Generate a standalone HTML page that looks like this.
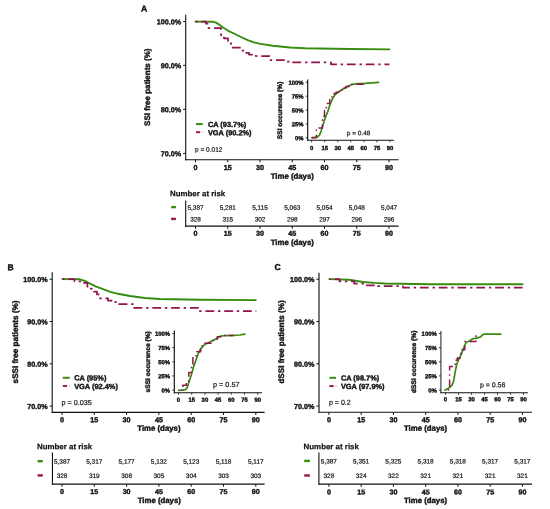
<!DOCTYPE html>
<html><head><meta charset="utf-8"><style>
html,body{margin:0;padding:0;background:#fff;}
svg{display:block;font-family:"Liberation Sans", sans-serif;filter:blur(0.3px);}
text{text-rendering:geometricPrecision;}
text.b{stroke:#111;stroke-width:0.38px;}
text.r{stroke:#1a1a1a;stroke-width:0.22px;}
</style></head><body>
<svg width="550" height="509" viewBox="0 0 550 509">
<rect width="550" height="509" fill="#fff"/>
<line x1="185.70" y1="14.70" x2="185.70" y2="160.20" stroke="#111" stroke-width="1.1"/>
<line x1="185.20" y1="159.70" x2="398.60" y2="159.70" stroke="#111" stroke-width="1.1"/>
<line x1="183.10" y1="21.50" x2="185.70" y2="21.50" stroke="#111" stroke-width="1.0"/>
<text x="181.10" y="24.41" font-size="7.2" font-weight="bold" fill="#111" text-anchor="end" transform="rotate(0.1 181.10 24.41)"  class="b">100.0%</text>
<line x1="183.10" y1="65.30" x2="185.70" y2="65.30" stroke="#111" stroke-width="1.0"/>
<text x="181.10" y="68.21" font-size="7.2" font-weight="bold" fill="#111" text-anchor="end" transform="rotate(0.1 181.10 68.21)"  class="b">90.0%</text>
<line x1="183.10" y1="109.30" x2="185.70" y2="109.30" stroke="#111" stroke-width="1.0"/>
<text x="181.10" y="112.21" font-size="7.2" font-weight="bold" fill="#111" text-anchor="end" transform="rotate(0.1 181.10 112.21)"  class="b">80.0%</text>
<line x1="183.10" y1="153.40" x2="185.70" y2="153.40" stroke="#111" stroke-width="1.0"/>
<text x="181.10" y="156.31" font-size="7.2" font-weight="bold" fill="#111" text-anchor="end" transform="rotate(0.1 181.10 156.31)"  class="b">70.0%</text>
<line x1="195.50" y1="159.70" x2="195.50" y2="162.30" stroke="#111" stroke-width="1.0"/>
<text x="195.50" y="170.11" font-size="7.2" font-weight="bold" fill="#111" text-anchor="middle" transform="rotate(0.1 195.50 170.11)"  class="b">0</text>
<line x1="227.75" y1="159.70" x2="227.75" y2="162.30" stroke="#111" stroke-width="1.0"/>
<text x="227.75" y="170.11" font-size="7.2" font-weight="bold" fill="#111" text-anchor="middle" transform="rotate(0.1 227.75 170.11)"  class="b">15</text>
<line x1="260.00" y1="159.70" x2="260.00" y2="162.30" stroke="#111" stroke-width="1.0"/>
<text x="260.00" y="170.11" font-size="7.2" font-weight="bold" fill="#111" text-anchor="middle" transform="rotate(0.1 260.00 170.11)"  class="b">30</text>
<line x1="292.25" y1="159.70" x2="292.25" y2="162.30" stroke="#111" stroke-width="1.0"/>
<text x="292.25" y="170.11" font-size="7.2" font-weight="bold" fill="#111" text-anchor="middle" transform="rotate(0.1 292.25 170.11)"  class="b">45</text>
<line x1="324.50" y1="159.70" x2="324.50" y2="162.30" stroke="#111" stroke-width="1.0"/>
<text x="324.50" y="170.11" font-size="7.2" font-weight="bold" fill="#111" text-anchor="middle" transform="rotate(0.1 324.50 170.11)"  class="b">60</text>
<line x1="356.75" y1="159.70" x2="356.75" y2="162.30" stroke="#111" stroke-width="1.0"/>
<text x="356.75" y="170.11" font-size="7.2" font-weight="bold" fill="#111" text-anchor="middle" transform="rotate(0.1 356.75 170.11)"  class="b">75</text>
<line x1="389.00" y1="159.70" x2="389.00" y2="162.30" stroke="#111" stroke-width="1.0"/>
<text x="389.00" y="170.11" font-size="7.2" font-weight="bold" fill="#111" text-anchor="middle" transform="rotate(0.1 389.00 170.11)"  class="b">90</text>
<text x="292.30" y="178.75" font-size="7.8" font-weight="bold" fill="#111" text-anchor="middle" transform="rotate(0.1 292.30 178.75)"  class="b">Time (days)</text>
<text x="147.20" y="87.20" font-size="8.0" font-weight="bold" fill="#111" text-anchor="middle" transform="rotate(-90 147.20 87.20)" dy="2.86"  class="b">SSI free patients (%)</text>
<text x="140.90" y="11.57" font-size="8.6" font-weight="bold" fill="#111" text-anchor="start" transform="rotate(0.1 140.90 11.57)"  class="b">A</text>
<line x1="195.90" y1="124.10" x2="202.80" y2="124.10" stroke="#368c0e" stroke-width="2.0"/>
<line x1="195.90" y1="132.20" x2="200.20" y2="132.20" stroke="#92154f" stroke-width="1.9"/>
<line x1="202.10" y1="132.20" x2="203.20" y2="132.20" stroke="#92154f" stroke-width="1.6" opacity="0.3"/>
<text x="207.90" y="127.09" font-size="7.4" font-weight="bold" fill="#111" text-anchor="start" transform="rotate(0.1 207.90 127.09)"  class="b">CA (93.7%)</text>
<text x="207.90" y="135.19" font-size="7.4" font-weight="bold" fill="#111" text-anchor="start" transform="rotate(0.1 207.90 135.19)"  class="b">VGA (90.2%)</text>
<text x="195.10" y="151.63" font-size="6.5" font-weight="normal" fill="#1a1a1a" text-anchor="start" transform="rotate(0.1 195.10 151.63)"  class="r">p = 0.012</text>
<polyline points="195.50,21.60 213.40,21.80 216.00,22.60 218.40,24.10 222.70,27.20 228.20,30.80 235.00,34.00 240.00,36.50 247.70,40.10 254.00,42.30 260.50,43.90 273.00,45.80 290.00,47.50 305.00,48.20 350.00,49.00 389.40,49.40" fill="none" stroke="#368c0e" stroke-width="1.9" stroke-linejoin="round" stroke-linecap="round"/>
<polyline points="195.50,21.60 206.00,21.60 206.00,23.70 207.50,23.70 207.50,28.00 221.00,28.00 221.00,35.00 224.00,35.00 224.00,38.30 228.00,38.30 228.00,42.00 231.00,42.00 231.00,47.70 241.00,47.70 241.00,50.50 246.00,50.50 246.00,52.80 249.00,52.80 249.00,54.50 255.00,54.50 255.00,56.00 269.50,56.00 269.50,60.00 287.00,60.00 287.00,61.50 293.00,61.50 293.00,62.40 331.00,62.40 331.00,64.30 389.40,64.30" fill="none" stroke="#92154f" stroke-width="1.75" stroke-linejoin="round" stroke-linecap="butt" stroke-dasharray="8.8 3.8 2.4 3.8" stroke-dashoffset="12.70"/>
<line x1="307.70" y1="79.40" x2="307.70" y2="140.80" stroke="#111" stroke-width="1.15"/>
<line x1="307.20" y1="140.30" x2="394.00" y2="140.30" stroke="#111" stroke-width="1.1"/>
<line x1="305.70" y1="82.30" x2="307.70" y2="82.30" stroke="#111" stroke-width="0.8"/>
<text x="303.50" y="84.68" font-size="5.9" font-weight="bold" fill="#111" text-anchor="end" transform="rotate(0.1 303.50 84.68)"  class="b">100%</text>
<line x1="305.70" y1="96.20" x2="307.70" y2="96.20" stroke="#111" stroke-width="0.8"/>
<text x="303.50" y="98.58" font-size="5.9" font-weight="bold" fill="#111" text-anchor="end" transform="rotate(0.1 303.50 98.58)"  class="b">75%</text>
<line x1="305.70" y1="110.10" x2="307.70" y2="110.10" stroke="#111" stroke-width="0.8"/>
<text x="303.50" y="112.48" font-size="5.9" font-weight="bold" fill="#111" text-anchor="end" transform="rotate(0.1 303.50 112.48)"  class="b">50%</text>
<line x1="305.70" y1="124.00" x2="307.70" y2="124.00" stroke="#111" stroke-width="0.8"/>
<text x="303.50" y="126.38" font-size="5.9" font-weight="bold" fill="#111" text-anchor="end" transform="rotate(0.1 303.50 126.38)"  class="b">25%</text>
<line x1="305.70" y1="137.90" x2="307.70" y2="137.90" stroke="#111" stroke-width="0.8"/>
<text x="303.50" y="140.28" font-size="5.9" font-weight="bold" fill="#111" text-anchor="end" transform="rotate(0.1 303.50 140.28)"  class="b">0%</text>
<line x1="311.60" y1="140.30" x2="311.60" y2="142.30" stroke="#111" stroke-width="0.8"/>
<text x="311.60" y="149.98" font-size="5.9" font-weight="bold" fill="#111" text-anchor="middle" transform="rotate(0.1 311.60 149.98)"  class="b">0</text>
<line x1="324.67" y1="140.30" x2="324.67" y2="142.30" stroke="#111" stroke-width="0.8"/>
<text x="324.67" y="149.98" font-size="5.9" font-weight="bold" fill="#111" text-anchor="middle" transform="rotate(0.1 324.67 149.98)"  class="b">15</text>
<line x1="337.74" y1="140.30" x2="337.74" y2="142.30" stroke="#111" stroke-width="0.8"/>
<text x="337.74" y="149.98" font-size="5.9" font-weight="bold" fill="#111" text-anchor="middle" transform="rotate(0.1 337.74 149.98)"  class="b">30</text>
<line x1="350.81" y1="140.30" x2="350.81" y2="142.30" stroke="#111" stroke-width="0.8"/>
<text x="350.81" y="149.98" font-size="5.9" font-weight="bold" fill="#111" text-anchor="middle" transform="rotate(0.1 350.81 149.98)"  class="b">45</text>
<line x1="363.88" y1="140.30" x2="363.88" y2="142.30" stroke="#111" stroke-width="0.8"/>
<text x="363.88" y="149.98" font-size="5.9" font-weight="bold" fill="#111" text-anchor="middle" transform="rotate(0.1 363.88 149.98)"  class="b">60</text>
<line x1="376.95" y1="140.30" x2="376.95" y2="142.30" stroke="#111" stroke-width="0.8"/>
<text x="376.95" y="149.98" font-size="5.9" font-weight="bold" fill="#111" text-anchor="middle" transform="rotate(0.1 376.95 149.98)"  class="b">75</text>
<line x1="390.02" y1="140.30" x2="390.02" y2="142.30" stroke="#111" stroke-width="0.8"/>
<text x="390.02" y="149.98" font-size="5.9" font-weight="bold" fill="#111" text-anchor="middle" transform="rotate(0.1 390.02 149.98)"  class="b">90</text>
<text x="280.00" y="110.40" font-size="6.6" font-weight="bold" fill="#111" text-anchor="middle" transform="rotate(-90 280.00 110.40)" dy="2.36"  class="b">SSI occurence (%)</text>
<text x="346.80" y="135.23" font-size="6.5" font-weight="normal" fill="#1a1a1a" text-anchor="start" transform="rotate(0.1 346.80 135.23)"  class="r">p = 0.48</text>
<polyline points="311.90,137.70 317.10,137.20 319.40,135.40 321.20,130.70 323.00,124.80 325.30,117.70 327.70,111.80 330.00,104.80 332.40,98.90 335.40,94.20 339.50,91.20 344.20,88.30 350.00,85.30 354.00,84.20 358.00,83.70 365.00,83.40 378.50,82.30" fill="none" stroke="#368c0e" stroke-width="1.7" stroke-linejoin="round" stroke-linecap="round"/>
<polyline points="311.90,137.70 316.40,137.70 316.40,128.00 322.50,128.00 322.50,116.50 324.50,116.50 324.50,110.50 326.30,110.50 326.30,103.60 329.80,103.60 329.80,99.60 332.00,99.60 332.00,96.00 334.00,96.00 334.00,93.60 336.00,93.60 336.00,92.30 339.50,92.30 339.50,90.30 342.50,90.30 342.50,88.00 346.00,88.00 346.00,86.60 350.50,86.60 350.50,84.30 367.30,84.30" fill="none" stroke="#92154f" stroke-width="1.5" stroke-linejoin="round" stroke-linecap="butt" stroke-dasharray="7.5 3.6 1.6 3.6"/>
<text x="170.00" y="196.19" font-size="7.9" font-weight="bold" fill="#111" text-anchor="start" transform="rotate(0.1 170.00 196.19)" style="stroke-width:0.2px" class="b">Number at risk</text>
<line x1="185.70" y1="200.50" x2="185.70" y2="226.80" stroke="#111" stroke-width="1.1"/>
<line x1="185.20" y1="226.20" x2="398.60" y2="226.20" stroke="#111" stroke-width="1.2"/>
<line x1="171.20" y1="207.10" x2="175.90" y2="207.10" stroke="#368c0e" stroke-width="2.4"/>
<line x1="171.20" y1="218.90" x2="175.90" y2="218.90" stroke="#92154f" stroke-width="2.4"/>
<line x1="195.50" y1="226.20" x2="195.50" y2="228.80" stroke="#111" stroke-width="1.0"/>
<text x="195.50" y="235.87" font-size="7.1" font-weight="bold" fill="#111" text-anchor="middle" transform="rotate(0.1 195.50 235.87)"  class="b">0</text>
<text x="195.50" y="209.71" font-size="6.45" font-weight="normal" fill="#1a1a1a" text-anchor="middle" transform="rotate(0.1 195.50 209.71)"  class="r">5,387</text>
<text x="195.50" y="221.51" font-size="6.45" font-weight="normal" fill="#1a1a1a" text-anchor="middle" transform="rotate(0.1 195.50 221.51)"  class="r">328</text>
<line x1="227.75" y1="226.20" x2="227.75" y2="228.80" stroke="#111" stroke-width="1.0"/>
<text x="227.75" y="235.87" font-size="7.1" font-weight="bold" fill="#111" text-anchor="middle" transform="rotate(0.1 227.75 235.87)"  class="b">15</text>
<text x="227.75" y="209.71" font-size="6.45" font-weight="normal" fill="#1a1a1a" text-anchor="middle" transform="rotate(0.1 227.75 209.71)"  class="r">5,281</text>
<text x="227.75" y="221.51" font-size="6.45" font-weight="normal" fill="#1a1a1a" text-anchor="middle" transform="rotate(0.1 227.75 221.51)"  class="r">315</text>
<line x1="260.00" y1="226.20" x2="260.00" y2="228.80" stroke="#111" stroke-width="1.0"/>
<text x="260.00" y="235.87" font-size="7.1" font-weight="bold" fill="#111" text-anchor="middle" transform="rotate(0.1 260.00 235.87)"  class="b">30</text>
<text x="260.00" y="209.71" font-size="6.45" font-weight="normal" fill="#1a1a1a" text-anchor="middle" transform="rotate(0.1 260.00 209.71)"  class="r">5,115</text>
<text x="260.00" y="221.51" font-size="6.45" font-weight="normal" fill="#1a1a1a" text-anchor="middle" transform="rotate(0.1 260.00 221.51)"  class="r">302</text>
<line x1="292.25" y1="226.20" x2="292.25" y2="228.80" stroke="#111" stroke-width="1.0"/>
<text x="292.25" y="235.87" font-size="7.1" font-weight="bold" fill="#111" text-anchor="middle" transform="rotate(0.1 292.25 235.87)"  class="b">45</text>
<text x="292.25" y="209.71" font-size="6.45" font-weight="normal" fill="#1a1a1a" text-anchor="middle" transform="rotate(0.1 292.25 209.71)"  class="r">5,063</text>
<text x="292.25" y="221.51" font-size="6.45" font-weight="normal" fill="#1a1a1a" text-anchor="middle" transform="rotate(0.1 292.25 221.51)"  class="r">298</text>
<line x1="324.50" y1="226.20" x2="324.50" y2="228.80" stroke="#111" stroke-width="1.0"/>
<text x="324.50" y="235.87" font-size="7.1" font-weight="bold" fill="#111" text-anchor="middle" transform="rotate(0.1 324.50 235.87)"  class="b">60</text>
<text x="324.50" y="209.71" font-size="6.45" font-weight="normal" fill="#1a1a1a" text-anchor="middle" transform="rotate(0.1 324.50 209.71)"  class="r">5,054</text>
<text x="324.50" y="221.51" font-size="6.45" font-weight="normal" fill="#1a1a1a" text-anchor="middle" transform="rotate(0.1 324.50 221.51)"  class="r">297</text>
<line x1="356.75" y1="226.20" x2="356.75" y2="228.80" stroke="#111" stroke-width="1.0"/>
<text x="356.75" y="235.87" font-size="7.1" font-weight="bold" fill="#111" text-anchor="middle" transform="rotate(0.1 356.75 235.87)"  class="b">75</text>
<text x="356.75" y="209.71" font-size="6.45" font-weight="normal" fill="#1a1a1a" text-anchor="middle" transform="rotate(0.1 356.75 209.71)"  class="r">5,048</text>
<text x="356.75" y="221.51" font-size="6.45" font-weight="normal" fill="#1a1a1a" text-anchor="middle" transform="rotate(0.1 356.75 221.51)"  class="r">296</text>
<line x1="389.00" y1="226.20" x2="389.00" y2="228.80" stroke="#111" stroke-width="1.0"/>
<text x="389.00" y="235.87" font-size="7.1" font-weight="bold" fill="#111" text-anchor="middle" transform="rotate(0.1 389.00 235.87)"  class="b">90</text>
<text x="389.00" y="209.71" font-size="6.45" font-weight="normal" fill="#1a1a1a" text-anchor="middle" transform="rotate(0.1 389.00 209.71)"  class="r">5,047</text>
<text x="389.00" y="221.51" font-size="6.45" font-weight="normal" fill="#1a1a1a" text-anchor="middle" transform="rotate(0.1 389.00 221.51)"  class="r">296</text>
<text x="292.30" y="245.05" font-size="7.8" font-weight="bold" fill="#111" text-anchor="middle" transform="rotate(0.1 292.30 245.05)"  class="b">Time (days)</text>
<line x1="52.20" y1="272.20" x2="52.20" y2="412.90" stroke="#111" stroke-width="1.1"/>
<line x1="51.70" y1="412.40" x2="264.60" y2="412.40" stroke="#111" stroke-width="1.1"/>
<line x1="49.60" y1="279.20" x2="52.20" y2="279.20" stroke="#111" stroke-width="1.0"/>
<text x="47.60" y="282.11" font-size="7.2" font-weight="bold" fill="#111" text-anchor="end" transform="rotate(0.1 47.60 282.11)"  class="b">100.0%</text>
<line x1="49.60" y1="321.50" x2="52.20" y2="321.50" stroke="#111" stroke-width="1.0"/>
<text x="47.60" y="324.41" font-size="7.2" font-weight="bold" fill="#111" text-anchor="end" transform="rotate(0.1 47.60 324.41)"  class="b">90.0%</text>
<line x1="49.60" y1="363.80" x2="52.20" y2="363.80" stroke="#111" stroke-width="1.0"/>
<text x="47.60" y="366.71" font-size="7.2" font-weight="bold" fill="#111" text-anchor="end" transform="rotate(0.1 47.60 366.71)"  class="b">80.0%</text>
<line x1="49.60" y1="406.10" x2="52.20" y2="406.10" stroke="#111" stroke-width="1.0"/>
<text x="47.60" y="409.01" font-size="7.2" font-weight="bold" fill="#111" text-anchor="end" transform="rotate(0.1 47.60 409.01)"  class="b">70.0%</text>
<line x1="62.00" y1="412.40" x2="62.00" y2="415.00" stroke="#111" stroke-width="1.0"/>
<text x="62.00" y="422.31" font-size="7.2" font-weight="bold" fill="#111" text-anchor="middle" transform="rotate(0.1 62.00 422.31)"  class="b">0</text>
<line x1="94.30" y1="412.40" x2="94.30" y2="415.00" stroke="#111" stroke-width="1.0"/>
<text x="94.30" y="422.31" font-size="7.2" font-weight="bold" fill="#111" text-anchor="middle" transform="rotate(0.1 94.30 422.31)"  class="b">15</text>
<line x1="126.60" y1="412.40" x2="126.60" y2="415.00" stroke="#111" stroke-width="1.0"/>
<text x="126.60" y="422.31" font-size="7.2" font-weight="bold" fill="#111" text-anchor="middle" transform="rotate(0.1 126.60 422.31)"  class="b">30</text>
<line x1="158.90" y1="412.40" x2="158.90" y2="415.00" stroke="#111" stroke-width="1.0"/>
<text x="158.90" y="422.31" font-size="7.2" font-weight="bold" fill="#111" text-anchor="middle" transform="rotate(0.1 158.90 422.31)"  class="b">45</text>
<line x1="191.20" y1="412.40" x2="191.20" y2="415.00" stroke="#111" stroke-width="1.0"/>
<text x="191.20" y="422.31" font-size="7.2" font-weight="bold" fill="#111" text-anchor="middle" transform="rotate(0.1 191.20 422.31)"  class="b">60</text>
<line x1="223.50" y1="412.40" x2="223.50" y2="415.00" stroke="#111" stroke-width="1.0"/>
<text x="223.50" y="422.31" font-size="7.2" font-weight="bold" fill="#111" text-anchor="middle" transform="rotate(0.1 223.50 422.31)"  class="b">75</text>
<line x1="255.80" y1="412.40" x2="255.80" y2="415.00" stroke="#111" stroke-width="1.0"/>
<text x="255.80" y="422.31" font-size="7.2" font-weight="bold" fill="#111" text-anchor="middle" transform="rotate(0.1 255.80 422.31)"  class="b">90</text>
<text x="158.90" y="430.85" font-size="7.8" font-weight="bold" fill="#111" text-anchor="middle" transform="rotate(0.1 158.90 430.85)"  class="b">Time (days)</text>
<text x="15.00" y="342.00" font-size="8.1" font-weight="bold" fill="#111" text-anchor="middle" transform="rotate(-90 15.00 342.00)" dy="2.90"  class="b">sSSI free patients (%)</text>
<text x="7.60" y="270.27" font-size="8.6" font-weight="bold" fill="#111" text-anchor="start" transform="rotate(0.1 7.60 270.27)"  class="b">B</text>
<line x1="62.80" y1="377.80" x2="69.70" y2="377.80" stroke="#368c0e" stroke-width="2.0"/>
<line x1="62.80" y1="386.00" x2="67.10" y2="386.00" stroke="#92154f" stroke-width="1.9"/>
<line x1="69.00" y1="386.00" x2="70.10" y2="386.00" stroke="#92154f" stroke-width="1.6" opacity="0.3"/>
<text x="74.20" y="380.39" font-size="7.4" font-weight="bold" fill="#111" text-anchor="start" transform="rotate(0.1 74.20 380.39)"  class="b">CA (95%)</text>
<text x="74.20" y="388.99" font-size="7.4" font-weight="bold" fill="#111" text-anchor="start" transform="rotate(0.1 74.20 388.99)"  class="b">VGA (92.4%)</text>
<text x="61.60" y="404.91" font-size="7.2" font-weight="normal" fill="#1a1a1a" text-anchor="start" transform="rotate(0.1 61.60 404.91)"  class="r">p = 0.035</text>
<polyline points="62.40,279.10 79.80,279.30 84.20,280.70 88.50,282.90 96.20,286.70 103.80,289.40 110.30,291.80 118.00,293.80 130.00,296.00 145.00,298.00 160.00,299.00 200.00,299.80 255.80,300.10" fill="none" stroke="#368c0e" stroke-width="1.9" stroke-linejoin="round" stroke-linecap="round"/>
<polyline points="62.40,279.10 74.40,279.10 74.40,281.30 82.00,281.30 82.00,282.90 87.40,282.90 87.40,286.70 90.70,286.70 90.70,288.60 94.00,288.60 94.00,291.60 97.00,291.60 97.00,294.40 100.00,294.40 100.00,298.30 108.00,298.30 108.00,300.50 112.00,300.50 112.00,302.00 119.00,302.00 119.00,304.00 134.00,304.00 134.00,307.90 199.00,307.90 199.00,311.20 256.30,311.20" fill="none" stroke="#92154f" stroke-width="1.75" stroke-linejoin="round" stroke-linecap="butt" stroke-dasharray="8.8 3.8 2.4 3.8" stroke-dashoffset="12.90"/>
<line x1="174.30" y1="330.60" x2="174.30" y2="393.20" stroke="#111" stroke-width="1.15"/>
<line x1="173.80" y1="392.70" x2="262.00" y2="392.70" stroke="#111" stroke-width="1.1"/>
<line x1="172.30" y1="333.50" x2="174.30" y2="333.50" stroke="#111" stroke-width="0.8"/>
<text x="170.10" y="335.88" font-size="5.9" font-weight="bold" fill="#111" text-anchor="end" transform="rotate(0.1 170.10 335.88)"  class="b">100%</text>
<line x1="172.30" y1="347.65" x2="174.30" y2="347.65" stroke="#111" stroke-width="0.8"/>
<text x="170.10" y="350.03" font-size="5.9" font-weight="bold" fill="#111" text-anchor="end" transform="rotate(0.1 170.10 350.03)"  class="b">75%</text>
<line x1="172.30" y1="361.80" x2="174.30" y2="361.80" stroke="#111" stroke-width="0.8"/>
<text x="170.10" y="364.18" font-size="5.9" font-weight="bold" fill="#111" text-anchor="end" transform="rotate(0.1 170.10 364.18)"  class="b">50%</text>
<line x1="172.30" y1="375.95" x2="174.30" y2="375.95" stroke="#111" stroke-width="0.8"/>
<text x="170.10" y="378.33" font-size="5.9" font-weight="bold" fill="#111" text-anchor="end" transform="rotate(0.1 170.10 378.33)"  class="b">25%</text>
<line x1="172.30" y1="390.10" x2="174.30" y2="390.10" stroke="#111" stroke-width="0.8"/>
<text x="170.10" y="392.48" font-size="5.9" font-weight="bold" fill="#111" text-anchor="end" transform="rotate(0.1 170.10 392.48)"  class="b">0%</text>
<line x1="178.50" y1="392.70" x2="178.50" y2="394.70" stroke="#111" stroke-width="0.8"/>
<text x="178.50" y="401.68" font-size="5.9" font-weight="bold" fill="#111" text-anchor="middle" transform="rotate(0.1 178.50 401.68)"  class="b">0</text>
<line x1="191.70" y1="392.70" x2="191.70" y2="394.70" stroke="#111" stroke-width="0.8"/>
<text x="191.70" y="401.68" font-size="5.9" font-weight="bold" fill="#111" text-anchor="middle" transform="rotate(0.1 191.70 401.68)"  class="b">15</text>
<line x1="204.90" y1="392.70" x2="204.90" y2="394.70" stroke="#111" stroke-width="0.8"/>
<text x="204.90" y="401.68" font-size="5.9" font-weight="bold" fill="#111" text-anchor="middle" transform="rotate(0.1 204.90 401.68)"  class="b">30</text>
<line x1="218.10" y1="392.70" x2="218.10" y2="394.70" stroke="#111" stroke-width="0.8"/>
<text x="218.10" y="401.68" font-size="5.9" font-weight="bold" fill="#111" text-anchor="middle" transform="rotate(0.1 218.10 401.68)"  class="b">45</text>
<line x1="231.30" y1="392.70" x2="231.30" y2="394.70" stroke="#111" stroke-width="0.8"/>
<text x="231.30" y="401.68" font-size="5.9" font-weight="bold" fill="#111" text-anchor="middle" transform="rotate(0.1 231.30 401.68)"  class="b">60</text>
<line x1="244.50" y1="392.70" x2="244.50" y2="394.70" stroke="#111" stroke-width="0.8"/>
<text x="244.50" y="401.68" font-size="5.9" font-weight="bold" fill="#111" text-anchor="middle" transform="rotate(0.1 244.50 401.68)"  class="b">75</text>
<line x1="257.70" y1="392.70" x2="257.70" y2="394.70" stroke="#111" stroke-width="0.8"/>
<text x="257.70" y="401.68" font-size="5.9" font-weight="bold" fill="#111" text-anchor="middle" transform="rotate(0.1 257.70 401.68)"  class="b">90</text>
<text x="147.60" y="361.80" font-size="6.6" font-weight="bold" fill="#111" text-anchor="middle" transform="rotate(-90 147.60 361.80)" dy="2.36"  class="b">sSSI occurence (%)</text>
<text x="213.00" y="387.05" font-size="7.3" font-weight="normal" fill="#1a1a1a" text-anchor="start" transform="rotate(0.1 213.00 387.05)"  class="r">p = 0.57</text>
<polyline points="178.50,390.30 182.80,390.20 185.40,389.60 187.30,387.60 188.90,382.00 191.20,375.30 193.40,367.40 195.70,360.70 197.90,354.60 200.10,349.50 203.50,345.60 206.80,343.40 211.30,341.20 215.00,339.50 218.00,337.50 220.90,336.00 225.30,335.60 234.00,335.30 239.80,335.00 244.90,334.10" fill="none" stroke="#368c0e" stroke-width="1.7" stroke-linejoin="round" stroke-linecap="round"/>
<polyline points="178.50,390.30 182.80,390.30 182.80,385.20 186.40,385.20 186.40,382.60 188.80,382.60 188.80,372.50 191.50,372.50 191.50,365.00 192.90,365.00 192.90,355.70 196.80,355.70 196.80,351.80 200.70,351.80 200.70,345.80 204.60,345.80 204.60,343.20 211.00,343.20 211.00,340.40 217.30,340.40 217.30,336.70 222.40,336.70 222.40,335.60 233.30,335.60" fill="none" stroke="#92154f" stroke-width="1.5" stroke-linejoin="round" stroke-linecap="butt" stroke-dasharray="7.5 3.6 1.6 3.6" stroke-dashoffset="8.70"/>
<text x="37.00" y="449.19" font-size="7.9" font-weight="bold" fill="#111" text-anchor="start" transform="rotate(0.1 37.00 449.19)" style="stroke-width:0.2px" class="b">Number at risk</text>
<line x1="52.45" y1="452.60" x2="52.45" y2="484.70" stroke="#111" stroke-width="1.1"/>
<line x1="51.95" y1="484.10" x2="264.60" y2="484.10" stroke="#111" stroke-width="1.2"/>
<line x1="37.60" y1="461.20" x2="42.80" y2="461.20" stroke="#368c0e" stroke-width="2.4"/>
<line x1="37.60" y1="475.40" x2="42.80" y2="475.40" stroke="#92154f" stroke-width="2.4"/>
<line x1="62.00" y1="484.10" x2="62.00" y2="486.70" stroke="#111" stroke-width="1.0"/>
<text x="62.00" y="494.07" font-size="7.1" font-weight="bold" fill="#111" text-anchor="middle" transform="rotate(0.1 62.00 494.07)"  class="b">0</text>
<text x="62.00" y="463.81" font-size="6.45" font-weight="normal" fill="#1a1a1a" text-anchor="middle" transform="rotate(0.1 62.00 463.81)"  class="r">5,387</text>
<text x="62.00" y="478.01" font-size="6.45" font-weight="normal" fill="#1a1a1a" text-anchor="middle" transform="rotate(0.1 62.00 478.01)"  class="r">328</text>
<line x1="94.30" y1="484.10" x2="94.30" y2="486.70" stroke="#111" stroke-width="1.0"/>
<text x="94.30" y="494.07" font-size="7.1" font-weight="bold" fill="#111" text-anchor="middle" transform="rotate(0.1 94.30 494.07)"  class="b">15</text>
<text x="94.30" y="463.81" font-size="6.45" font-weight="normal" fill="#1a1a1a" text-anchor="middle" transform="rotate(0.1 94.30 463.81)"  class="r">5,317</text>
<text x="94.30" y="478.01" font-size="6.45" font-weight="normal" fill="#1a1a1a" text-anchor="middle" transform="rotate(0.1 94.30 478.01)"  class="r">319</text>
<line x1="126.60" y1="484.10" x2="126.60" y2="486.70" stroke="#111" stroke-width="1.0"/>
<text x="126.60" y="494.07" font-size="7.1" font-weight="bold" fill="#111" text-anchor="middle" transform="rotate(0.1 126.60 494.07)"  class="b">30</text>
<text x="126.60" y="463.81" font-size="6.45" font-weight="normal" fill="#1a1a1a" text-anchor="middle" transform="rotate(0.1 126.60 463.81)"  class="r">5,177</text>
<text x="126.60" y="478.01" font-size="6.45" font-weight="normal" fill="#1a1a1a" text-anchor="middle" transform="rotate(0.1 126.60 478.01)"  class="r">308</text>
<line x1="158.90" y1="484.10" x2="158.90" y2="486.70" stroke="#111" stroke-width="1.0"/>
<text x="158.90" y="494.07" font-size="7.1" font-weight="bold" fill="#111" text-anchor="middle" transform="rotate(0.1 158.90 494.07)"  class="b">45</text>
<text x="158.90" y="463.81" font-size="6.45" font-weight="normal" fill="#1a1a1a" text-anchor="middle" transform="rotate(0.1 158.90 463.81)"  class="r">5,132</text>
<text x="158.90" y="478.01" font-size="6.45" font-weight="normal" fill="#1a1a1a" text-anchor="middle" transform="rotate(0.1 158.90 478.01)"  class="r">305</text>
<line x1="191.20" y1="484.10" x2="191.20" y2="486.70" stroke="#111" stroke-width="1.0"/>
<text x="191.20" y="494.07" font-size="7.1" font-weight="bold" fill="#111" text-anchor="middle" transform="rotate(0.1 191.20 494.07)"  class="b">60</text>
<text x="191.20" y="463.81" font-size="6.45" font-weight="normal" fill="#1a1a1a" text-anchor="middle" transform="rotate(0.1 191.20 463.81)"  class="r">5,123</text>
<text x="191.20" y="478.01" font-size="6.45" font-weight="normal" fill="#1a1a1a" text-anchor="middle" transform="rotate(0.1 191.20 478.01)"  class="r">304</text>
<line x1="223.50" y1="484.10" x2="223.50" y2="486.70" stroke="#111" stroke-width="1.0"/>
<text x="223.50" y="494.07" font-size="7.1" font-weight="bold" fill="#111" text-anchor="middle" transform="rotate(0.1 223.50 494.07)"  class="b">75</text>
<text x="223.50" y="463.81" font-size="6.45" font-weight="normal" fill="#1a1a1a" text-anchor="middle" transform="rotate(0.1 223.50 463.81)"  class="r">5,118</text>
<text x="223.50" y="478.01" font-size="6.45" font-weight="normal" fill="#1a1a1a" text-anchor="middle" transform="rotate(0.1 223.50 478.01)"  class="r">303</text>
<line x1="255.80" y1="484.10" x2="255.80" y2="486.70" stroke="#111" stroke-width="1.0"/>
<text x="255.80" y="494.07" font-size="7.1" font-weight="bold" fill="#111" text-anchor="middle" transform="rotate(0.1 255.80 494.07)"  class="b">90</text>
<text x="255.80" y="463.81" font-size="6.45" font-weight="normal" fill="#1a1a1a" text-anchor="middle" transform="rotate(0.1 255.80 463.81)"  class="r">5,117</text>
<text x="255.80" y="478.01" font-size="6.45" font-weight="normal" fill="#1a1a1a" text-anchor="middle" transform="rotate(0.1 255.80 478.01)"  class="r">303</text>
<text x="159.30" y="503.05" font-size="7.8" font-weight="bold" fill="#111" text-anchor="middle" transform="rotate(0.1 159.30 503.05)"  class="b">Time (days)</text>
<line x1="319.00" y1="272.70" x2="319.00" y2="412.80" stroke="#4a4a4a" stroke-width="1.5"/>
<line x1="318.50" y1="412.30" x2="532.00" y2="412.30" stroke="#111" stroke-width="1.1"/>
<line x1="316.40" y1="279.20" x2="319.00" y2="279.20" stroke="#111" stroke-width="1.0"/>
<text x="314.40" y="282.11" font-size="7.2" font-weight="bold" fill="#111" text-anchor="end" transform="rotate(0.1 314.40 282.11)"  class="b">100.0%</text>
<line x1="316.40" y1="321.50" x2="319.00" y2="321.50" stroke="#111" stroke-width="1.0"/>
<text x="314.40" y="324.41" font-size="7.2" font-weight="bold" fill="#111" text-anchor="end" transform="rotate(0.1 314.40 324.41)"  class="b">90.0%</text>
<line x1="316.40" y1="363.80" x2="319.00" y2="363.80" stroke="#111" stroke-width="1.0"/>
<text x="314.40" y="366.71" font-size="7.2" font-weight="bold" fill="#111" text-anchor="end" transform="rotate(0.1 314.40 366.71)"  class="b">80.0%</text>
<line x1="316.40" y1="406.10" x2="319.00" y2="406.10" stroke="#111" stroke-width="1.0"/>
<text x="314.40" y="409.01" font-size="7.2" font-weight="bold" fill="#111" text-anchor="end" transform="rotate(0.1 314.40 409.01)"  class="b">70.0%</text>
<line x1="328.90" y1="412.30" x2="328.90" y2="414.90" stroke="#111" stroke-width="1.0"/>
<text x="328.90" y="422.31" font-size="7.2" font-weight="bold" fill="#111" text-anchor="middle" transform="rotate(0.1 328.90 422.31)"  class="b">0</text>
<line x1="361.15" y1="412.30" x2="361.15" y2="414.90" stroke="#111" stroke-width="1.0"/>
<text x="361.15" y="422.31" font-size="7.2" font-weight="bold" fill="#111" text-anchor="middle" transform="rotate(0.1 361.15 422.31)"  class="b">15</text>
<line x1="393.40" y1="412.30" x2="393.40" y2="414.90" stroke="#111" stroke-width="1.0"/>
<text x="393.40" y="422.31" font-size="7.2" font-weight="bold" fill="#111" text-anchor="middle" transform="rotate(0.1 393.40 422.31)"  class="b">30</text>
<line x1="425.65" y1="412.30" x2="425.65" y2="414.90" stroke="#111" stroke-width="1.0"/>
<text x="425.65" y="422.31" font-size="7.2" font-weight="bold" fill="#111" text-anchor="middle" transform="rotate(0.1 425.65 422.31)"  class="b">45</text>
<line x1="457.90" y1="412.30" x2="457.90" y2="414.90" stroke="#111" stroke-width="1.0"/>
<text x="457.90" y="422.31" font-size="7.2" font-weight="bold" fill="#111" text-anchor="middle" transform="rotate(0.1 457.90 422.31)"  class="b">60</text>
<line x1="490.15" y1="412.30" x2="490.15" y2="414.90" stroke="#111" stroke-width="1.0"/>
<text x="490.15" y="422.31" font-size="7.2" font-weight="bold" fill="#111" text-anchor="middle" transform="rotate(0.1 490.15 422.31)"  class="b">75</text>
<line x1="522.40" y1="412.30" x2="522.40" y2="414.90" stroke="#111" stroke-width="1.0"/>
<text x="522.40" y="422.31" font-size="7.2" font-weight="bold" fill="#111" text-anchor="middle" transform="rotate(0.1 522.40 422.31)"  class="b">90</text>
<text x="425.60" y="430.85" font-size="7.8" font-weight="bold" fill="#111" text-anchor="middle" transform="rotate(0.1 425.60 430.85)"  class="b">Time (days)</text>
<text x="281.20" y="342.00" font-size="8.1" font-weight="bold" fill="#111" text-anchor="middle" transform="rotate(-90 281.20 342.00)" dy="2.90"  class="b">dSSI free patients (%)</text>
<text x="274.40" y="269.97" font-size="8.6" font-weight="bold" fill="#111" text-anchor="start" transform="rotate(0.1 274.40 269.97)"  class="b">C</text>
<line x1="329.40" y1="377.80" x2="336.10" y2="377.80" stroke="#368c0e" stroke-width="2.0"/>
<line x1="329.40" y1="386.10" x2="333.70" y2="386.10" stroke="#92154f" stroke-width="1.9"/>
<line x1="335.60" y1="386.10" x2="336.70" y2="386.10" stroke="#92154f" stroke-width="1.6" opacity="0.3"/>
<text x="340.90" y="380.49" font-size="7.4" font-weight="bold" fill="#111" text-anchor="start" transform="rotate(0.1 340.90 380.49)"  class="b">CA (98.7%)</text>
<text x="340.90" y="388.89" font-size="7.4" font-weight="bold" fill="#111" text-anchor="start" transform="rotate(0.1 340.90 388.89)"  class="b">VGA (97.9%)</text>
<text x="328.90" y="404.67" font-size="7.1" font-weight="normal" fill="#1a1a1a" text-anchor="start" transform="rotate(0.1 328.90 404.67)"  class="r">p = 0.2</text>
<polyline points="329.40,279.10 349.00,279.80 355.50,280.70 363.20,282.00 374.00,282.90 385.00,283.50 430.00,284.20 522.60,284.20" fill="none" stroke="#368c0e" stroke-width="1.9" stroke-linejoin="round" stroke-linecap="round"/>
<polyline points="329.40,279.10 339.50,279.10 339.50,281.30 354.20,281.30 354.20,283.50 365.00,283.50 365.00,285.30 378.00,285.30 378.00,286.20 403.00,286.20 403.00,287.70 522.60,287.70" fill="none" stroke="#92154f" stroke-width="1.75" stroke-linejoin="round" stroke-linecap="butt" stroke-dasharray="8.8 3.8 2.4 3.8" stroke-dashoffset="13.70"/>
<line x1="440.90" y1="330.90" x2="440.90" y2="393.30" stroke="#3a3a3a" stroke-width="1.15"/>
<line x1="440.40" y1="392.80" x2="527.90" y2="392.80" stroke="#111" stroke-width="1.1"/>
<line x1="438.90" y1="333.50" x2="440.90" y2="333.50" stroke="#111" stroke-width="0.8"/>
<text x="436.70" y="335.88" font-size="5.9" font-weight="bold" fill="#111" text-anchor="end" transform="rotate(0.1 436.70 335.88)"  class="b">100%</text>
<line x1="438.90" y1="347.65" x2="440.90" y2="347.65" stroke="#111" stroke-width="0.8"/>
<text x="436.70" y="350.03" font-size="5.9" font-weight="bold" fill="#111" text-anchor="end" transform="rotate(0.1 436.70 350.03)"  class="b">75%</text>
<line x1="438.90" y1="361.80" x2="440.90" y2="361.80" stroke="#111" stroke-width="0.8"/>
<text x="436.70" y="364.18" font-size="5.9" font-weight="bold" fill="#111" text-anchor="end" transform="rotate(0.1 436.70 364.18)"  class="b">50%</text>
<line x1="438.90" y1="375.95" x2="440.90" y2="375.95" stroke="#111" stroke-width="0.8"/>
<text x="436.70" y="378.33" font-size="5.9" font-weight="bold" fill="#111" text-anchor="end" transform="rotate(0.1 436.70 378.33)"  class="b">25%</text>
<line x1="438.90" y1="390.10" x2="440.90" y2="390.10" stroke="#111" stroke-width="0.8"/>
<text x="436.70" y="392.48" font-size="5.9" font-weight="bold" fill="#111" text-anchor="end" transform="rotate(0.1 436.70 392.48)"  class="b">0%</text>
<line x1="445.50" y1="392.80" x2="445.50" y2="394.80" stroke="#111" stroke-width="0.8"/>
<text x="445.50" y="401.28" font-size="5.9" font-weight="bold" fill="#111" text-anchor="middle" transform="rotate(0.1 445.50 401.28)"  class="b">0</text>
<line x1="458.50" y1="392.80" x2="458.50" y2="394.80" stroke="#111" stroke-width="0.8"/>
<text x="458.50" y="401.28" font-size="5.9" font-weight="bold" fill="#111" text-anchor="middle" transform="rotate(0.1 458.50 401.28)"  class="b">15</text>
<line x1="471.50" y1="392.80" x2="471.50" y2="394.80" stroke="#111" stroke-width="0.8"/>
<text x="471.50" y="401.28" font-size="5.9" font-weight="bold" fill="#111" text-anchor="middle" transform="rotate(0.1 471.50 401.28)"  class="b">30</text>
<line x1="484.50" y1="392.80" x2="484.50" y2="394.80" stroke="#111" stroke-width="0.8"/>
<text x="484.50" y="401.28" font-size="5.9" font-weight="bold" fill="#111" text-anchor="middle" transform="rotate(0.1 484.50 401.28)"  class="b">45</text>
<line x1="497.50" y1="392.80" x2="497.50" y2="394.80" stroke="#111" stroke-width="0.8"/>
<text x="497.50" y="401.28" font-size="5.9" font-weight="bold" fill="#111" text-anchor="middle" transform="rotate(0.1 497.50 401.28)"  class="b">60</text>
<line x1="510.50" y1="392.80" x2="510.50" y2="394.80" stroke="#111" stroke-width="0.8"/>
<text x="510.50" y="401.28" font-size="5.9" font-weight="bold" fill="#111" text-anchor="middle" transform="rotate(0.1 510.50 401.28)"  class="b">75</text>
<line x1="523.50" y1="392.80" x2="523.50" y2="394.80" stroke="#111" stroke-width="0.8"/>
<text x="523.50" y="401.28" font-size="5.9" font-weight="bold" fill="#111" text-anchor="middle" transform="rotate(0.1 523.50 401.28)"  class="b">90</text>
<text x="413.30" y="361.80" font-size="6.7" font-weight="bold" fill="#111" text-anchor="middle" transform="rotate(-90 413.30 361.80)" dy="2.40"  class="b">dSSI occurence (%)</text>
<text x="479.90" y="387.33" font-size="7.0" font-weight="normal" fill="#1a1a1a" text-anchor="start" transform="rotate(0.1 479.90 387.33)"  class="r">p = 0.56</text>
<polyline points="445.00,390.10 449.10,388.00 452.20,384.90 453.70,380.80 454.70,374.70 455.80,368.60 456.80,364.00 458.30,360.40 459.80,357.30 461.40,353.80 462.90,350.20 464.40,346.10 466.00,342.60 469.50,341.00 472.70,338.70 475.40,338.40 478.10,337.60 480.10,337.10 482.10,335.30 484.10,334.10 500.80,334.10" fill="none" stroke="#368c0e" stroke-width="1.7" stroke-linejoin="round" stroke-linecap="round"/>
<polyline points="445.00,390.10 449.60,390.10 449.60,366.50 455.20,366.50 455.20,360.20 457.20,360.20 457.20,358.00 460.80,358.00 460.80,349.80 464.80,349.80 464.80,341.50 475.90,341.50 475.90,334.10 477.30,334.10" fill="none" stroke="#92154f" stroke-width="1.5" stroke-linejoin="round" stroke-linecap="butt" stroke-dasharray="7.5 3.6 1.6 3.6" stroke-dashoffset="8.50"/>
<text x="303.60" y="449.19" font-size="7.9" font-weight="bold" fill="#111" text-anchor="start" transform="rotate(0.1 303.60 449.19)" style="stroke-width:0.2px" class="b">Number at risk</text>
<line x1="318.90" y1="452.60" x2="318.90" y2="484.80" stroke="#444" stroke-width="1.4"/>
<line x1="318.40" y1="484.20" x2="532.00" y2="484.20" stroke="#111" stroke-width="1.2"/>
<line x1="304.20" y1="460.90" x2="309.90" y2="460.90" stroke="#368c0e" stroke-width="2.4"/>
<line x1="304.20" y1="475.50" x2="309.90" y2="475.50" stroke="#92154f" stroke-width="2.4"/>
<line x1="328.90" y1="484.20" x2="328.90" y2="486.80" stroke="#111" stroke-width="1.0"/>
<text x="328.90" y="494.47" font-size="7.1" font-weight="bold" fill="#111" text-anchor="middle" transform="rotate(0.1 328.90 494.47)"  class="b">0</text>
<text x="328.90" y="463.51" font-size="6.45" font-weight="normal" fill="#1a1a1a" text-anchor="middle" transform="rotate(0.1 328.90 463.51)"  class="r">5,387</text>
<text x="328.90" y="478.11" font-size="6.45" font-weight="normal" fill="#1a1a1a" text-anchor="middle" transform="rotate(0.1 328.90 478.11)"  class="r">328</text>
<line x1="361.15" y1="484.20" x2="361.15" y2="486.80" stroke="#111" stroke-width="1.0"/>
<text x="361.15" y="494.47" font-size="7.1" font-weight="bold" fill="#111" text-anchor="middle" transform="rotate(0.1 361.15 494.47)"  class="b">15</text>
<text x="361.15" y="463.51" font-size="6.45" font-weight="normal" fill="#1a1a1a" text-anchor="middle" transform="rotate(0.1 361.15 463.51)"  class="r">5,351</text>
<text x="361.15" y="478.11" font-size="6.45" font-weight="normal" fill="#1a1a1a" text-anchor="middle" transform="rotate(0.1 361.15 478.11)"  class="r">324</text>
<line x1="393.40" y1="484.20" x2="393.40" y2="486.80" stroke="#111" stroke-width="1.0"/>
<text x="393.40" y="494.47" font-size="7.1" font-weight="bold" fill="#111" text-anchor="middle" transform="rotate(0.1 393.40 494.47)"  class="b">30</text>
<text x="393.40" y="463.51" font-size="6.45" font-weight="normal" fill="#1a1a1a" text-anchor="middle" transform="rotate(0.1 393.40 463.51)"  class="r">5,325</text>
<text x="393.40" y="478.11" font-size="6.45" font-weight="normal" fill="#1a1a1a" text-anchor="middle" transform="rotate(0.1 393.40 478.11)"  class="r">322</text>
<line x1="425.65" y1="484.20" x2="425.65" y2="486.80" stroke="#111" stroke-width="1.0"/>
<text x="425.65" y="494.47" font-size="7.1" font-weight="bold" fill="#111" text-anchor="middle" transform="rotate(0.1 425.65 494.47)"  class="b">45</text>
<text x="425.65" y="463.51" font-size="6.45" font-weight="normal" fill="#1a1a1a" text-anchor="middle" transform="rotate(0.1 425.65 463.51)"  class="r">5,318</text>
<text x="425.65" y="478.11" font-size="6.45" font-weight="normal" fill="#1a1a1a" text-anchor="middle" transform="rotate(0.1 425.65 478.11)"  class="r">321</text>
<line x1="457.90" y1="484.20" x2="457.90" y2="486.80" stroke="#111" stroke-width="1.0"/>
<text x="457.90" y="494.47" font-size="7.1" font-weight="bold" fill="#111" text-anchor="middle" transform="rotate(0.1 457.90 494.47)"  class="b">60</text>
<text x="457.90" y="463.51" font-size="6.45" font-weight="normal" fill="#1a1a1a" text-anchor="middle" transform="rotate(0.1 457.90 463.51)"  class="r">5,318</text>
<text x="457.90" y="478.11" font-size="6.45" font-weight="normal" fill="#1a1a1a" text-anchor="middle" transform="rotate(0.1 457.90 478.11)"  class="r">321</text>
<line x1="490.15" y1="484.20" x2="490.15" y2="486.80" stroke="#111" stroke-width="1.0"/>
<text x="490.15" y="494.47" font-size="7.1" font-weight="bold" fill="#111" text-anchor="middle" transform="rotate(0.1 490.15 494.47)"  class="b">75</text>
<text x="490.15" y="463.51" font-size="6.45" font-weight="normal" fill="#1a1a1a" text-anchor="middle" transform="rotate(0.1 490.15 463.51)"  class="r">5,317</text>
<text x="490.15" y="478.11" font-size="6.45" font-weight="normal" fill="#1a1a1a" text-anchor="middle" transform="rotate(0.1 490.15 478.11)"  class="r">321</text>
<line x1="522.40" y1="484.20" x2="522.40" y2="486.80" stroke="#111" stroke-width="1.0"/>
<text x="522.40" y="494.47" font-size="7.1" font-weight="bold" fill="#111" text-anchor="middle" transform="rotate(0.1 522.40 494.47)"  class="b">90</text>
<text x="522.40" y="463.51" font-size="6.45" font-weight="normal" fill="#1a1a1a" text-anchor="middle" transform="rotate(0.1 522.40 463.51)"  class="r">5,317</text>
<text x="522.40" y="478.11" font-size="6.45" font-weight="normal" fill="#1a1a1a" text-anchor="middle" transform="rotate(0.1 522.40 478.11)"  class="r">321</text>
<text x="425.50" y="502.95" font-size="7.8" font-weight="bold" fill="#111" text-anchor="middle" transform="rotate(0.1 425.50 502.95)"  class="b">Time (days)</text>
</svg>
</body></html>
